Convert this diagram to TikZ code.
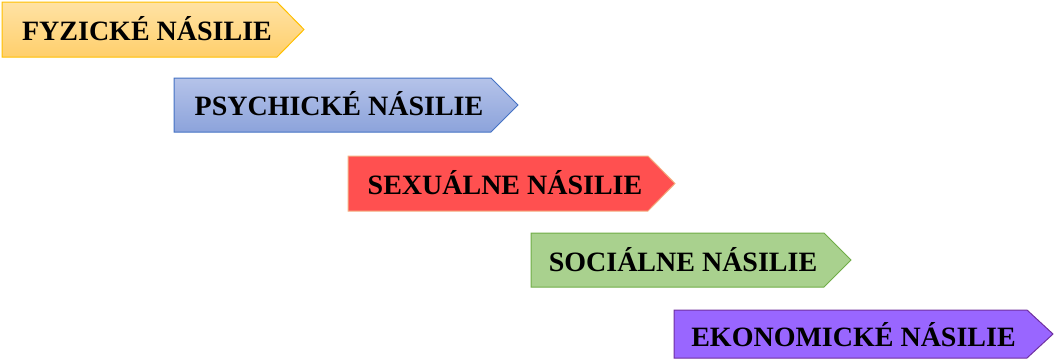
\documentclass[tikz,border=0pt]{standalone}
\usepackage{fontspec}
\setmainfont{Liberation Serif}
\definecolor{fyzTop}{HTML}{FFE2A4}
\definecolor{fyzBot}{HTML}{FFCF6C}
\definecolor{fyzLine}{HTML}{FFC000}
\definecolor{psyTop}{HTML}{B5C3E9}
\definecolor{psyBot}{HTML}{8CA3DB}
\definecolor{psyLine}{HTML}{4472C4}
\definecolor{sexFill}{HTML}{FF5050}
\definecolor{sexLine}{HTML}{F4B183}
\definecolor{socFill}{HTML}{A9D18E}
\definecolor{socLine}{HTML}{70AD47}
\definecolor{ekoFill}{HTML}{9966FF}
\definecolor{ekoLine}{HTML}{7030A0}
\tikzset{
  chev/.style={line width=1pt, line join=miter},
  lbl/.style={font=\fontsize{28}{30}\selectfont\bfseries, text=black, inner sep=0pt}
}
\begin{document}
\begin{tikzpicture}[x=1pt,y=-1pt]
\useasboundingbox (0,0) rectangle (1055,360);
% 1
\path[chev, draw=fyzLine, top color=fyzTop, bottom color=fyzBot]
  (2,2) -- (277,2) -- (304,29.5) -- (277,57) -- (2,57) -- cycle;
\node[lbl] (fyz) at (147,29) {FYZICKÉ NÁSILIE};
% 2
\path[chev, draw=psyLine, top color=psyTop, bottom color=psyBot]
  (174,78) -- (491,78) -- (518,105) -- (491,132) -- (174,132) -- cycle;
\node[lbl] (psy) at (339,104) {PSYCHICKÉ NÁSILIE};
% 3
\path[chev, draw=sexLine, fill=sexFill]
  (348,156) -- (648,156) -- (675,183.5) -- (648,211) -- (348,211) -- cycle;
\node[lbl] (sex) at (505,183) {SEXUÁLNE NÁSILIE};
% 4
\path[chev, draw=socLine, fill=socFill]
  (531,233) -- (824,233) -- (851,260) -- (824,287) -- (531,287) -- cycle;
\node[lbl] (soc) at (683,259.5) {SOCIÁLNE NÁSILIE};
% 5
\path[chev, draw=ekoLine, fill=ekoFill]
  (674,310) -- (1027,310) -- (1053,334) -- (1027,358) -- (674,358) -- cycle;
\node[lbl] (eko) at (853.5,334.5) {EKONOMICKÉ NÁSILIE};
\end{tikzpicture}
\end{document}
